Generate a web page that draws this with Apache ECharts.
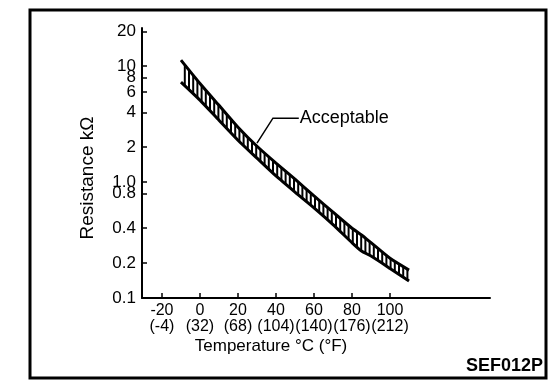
<!DOCTYPE html>
<html><head><meta charset="utf-8">
<script src="https://cdn.jsdelivr.net/npm/echarts@6/dist/echarts.min.js"></script>
<style>html,body{margin:0;padding:0;background:#fff}#c{width:560px;height:388px}</style>
</head><body><div id="c"></div>
<script>
// Temperature (°C) and resistance band limits (kΩ)
const temps  = [-10, 0, 10, 20, 30, 40, 50, 60, 70, 80, 85, 90, 100, 110];
const upperK = [11.3, 7.1, 4.6, 2.98, 2.04, 1.46, 1.06, 0.76, 0.55, 0.40, 0.35, 0.30, 0.22, 0.174];
const lowerK = [7.3, 5.1, 3.42, 2.30, 1.61, 1.13, 0.82, 0.60, 0.43, 0.30, 0.254, 0.23, 0.18, 0.14];

// Axis ticks
const xTickC = [-20, 0, 20, 40, 60, 80, 100];
const xTickF = ['(-4)', '(32)', '(68)', '(104)', '(140)', '(176)', '(212)'];
const yTickV = [0.1, 0.2, 0.4, 0.8, 1.0, 2, 4, 6, 8, 10, 20];
const yTickL = ['0.1', '0.2', '0.4', '0.8', '1.0', '2', '4', '6', '8', '10', '20'];

// Annotation leader ("Acceptable")
const leaderT = [30, 38.4, 52];
const leaderK = [2.17, 3.56, 3.56];

const lg = v => Math.log10(v);
const FONT = 'Liberation Sans, Arial, Helvetica, sans-serif';

const upperData = temps.map((t, i) => [t, lg(upperK[i])]);
const lowerData = temps.map((t, i) => [t, lg(lowerK[i])]);
const segData = temps.slice(0, -1).map((t, i) => [t, lg(upperK[i]), lg(lowerK[i]), temps[i + 1], lg(upperK[i + 1]), lg(lowerK[i + 1])]);

const chart = echarts.init(document.getElementById('c'), null, {renderer: 'canvas'});

const baseGraphic = [
  {type: 'rect', shape: {x: 30, y: 10, width: 516, height: 368}, style: {fill: 'none', stroke: '#000', lineWidth: 3}, z: 100},
  {type: 'text', x: 88, y: 178, rotation: Math.PI / 2, style: {text: 'Resistance kΩ', font: '19px ' + FONT, fill: '#000', textAlign: 'center', textVerticalAlign: 'middle'}},
  {type: 'text', x: 271, y: 346, style: {text: 'Temperature °C (°F)', font: '17px ' + FONT, fill: '#000', textAlign: 'center', textVerticalAlign: 'middle'}},
  {type: 'text', x: 543, y: 366, style: {text: 'SEF012P', font: 'bold 18px ' + FONT, fill: '#000', textAlign: 'right', textVerticalAlign: 'middle'}}
];

const option = {
  animation: false,
  backgroundColor: '#fff',
  grid: {left: 142, right: 70, top: 28, bottom: 90, containLabel: false},
  xAxis: {
    type: 'value', min: -30.5, max: 152.6,
    axisLine: {show: true, onZero: false, lineStyle: {color: '#000', width: 2}},
    axisTick: {show: true, inside: true, length: 5, customValues: xTickC, lineStyle: {color: '#000', width: 1.5}},
    axisLabel: {
      customValues: xTickC, color: '#000', fontSize: 16, fontFamily: FONT, lineHeight: 16, margin: 5,
      formatter: v => { const i = xTickC.indexOf(v); return i < 0 ? '' : xTickC[i] + '\n' + xTickF[i]; }
    },
    splitLine: {show: false}
  },
  yAxis: {
    type: 'value', min: -1, max: 1.33,
    axisLine: {show: true, onZero: false, lineStyle: {color: '#000', width: 2}},
    axisTick: {show: true, inside: true, length: 5, customValues: yTickV.map(lg), lineStyle: {color: '#000', width: 1.5}},
    axisLabel: {
      customValues: yTickV.map(lg), color: '#000', fontSize: 17, fontFamily: FONT, margin: 6,
      formatter: v => { let best = -1, d = 1e9; yTickV.forEach((t, i) => { const dd = Math.abs(lg(t) - v); if (dd < d) { d = dd; best = i; } }); return d < 1e-6 ? yTickL[best] : ''; }
    },
    splitLine: {show: false}
  },
  series: [
    {
      type: 'custom', name: 'hatch', data: segData, clip: false, silent: true,
      encode: {x: [0, 3], y: [1, 2, 4, 5]},
      renderItem: (params, api) => {
        const pu0 = api.coord([api.value(0), api.value(1)]);
        const pl0 = api.coord([api.value(0), api.value(2)]);
        const pu1 = api.coord([api.value(3), api.value(4)]);
        const pl1 = api.coord([api.value(3), api.value(5)]);
        const x0 = pu0[0], x1 = pu1[0];
        const step = 4.2;
        const children = [];
        for (let x = Math.ceil(x0 / step) * step; x < x1; x += step) {
          const f = (x - x0) / (x1 - x0);
          const yu = pu0[1] + f * (pu1[1] - pu0[1]);
          const yl = pl0[1] + f * (pl1[1] - pl0[1]);
          children.push({type: 'line', shape: {x1: x, y1: yu, x2: x, y2: yl}, style: {stroke: '#000', lineWidth: 2}});
        }
        return {type: 'group', children};
      }
    },
    {type: 'line', name: 'upper', data: upperData, symbol: 'none', smooth: 0.2, lineStyle: {color: '#000', width: 3}},
    {type: 'line', name: 'lower', data: lowerData, symbol: 'none', smooth: 0.2, lineStyle: {color: '#000', width: 3}}
  ],
  graphic: baseGraphic
};
chart.setOption(option);

// Leader line and label placed through the chart's own coordinate system
const pts = leaderT.map((t, i) => chart.convertToPixel({gridIndex: 0}, [t, lg(leaderK[i])]));
const last = pts[pts.length - 1];
chart.setOption({
  graphic: baseGraphic.concat([
    {type: 'polyline', shape: {points: pts}, style: {stroke: '#000', lineWidth: 1.5, fill: 'none'}},
    {type: 'text', x: last[0] + 1, y: last[1], style: {text: 'Acceptable', font: '18px ' + FONT, fill: '#000', textAlign: 'left', textVerticalAlign: 'middle'}}
  ])
}, {replaceMerge: ['graphic']});
</script>
</body></html>
